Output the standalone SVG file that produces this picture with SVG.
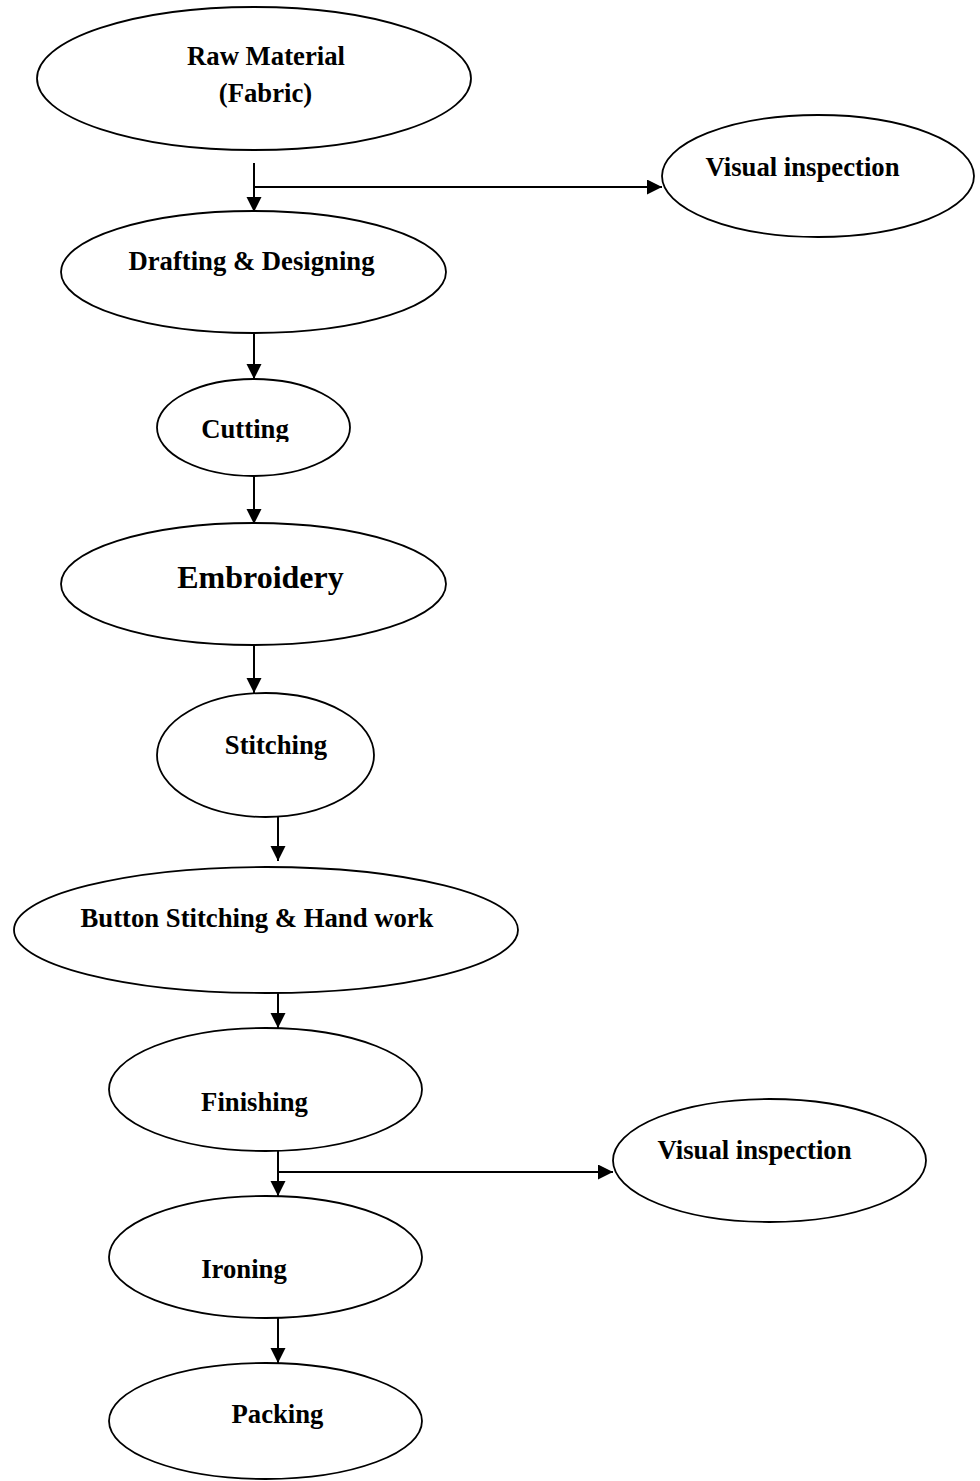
<svg xmlns="http://www.w3.org/2000/svg" width="980" height="1481" viewBox="0 0 980 1481">
<style>
  .node ellipse { fill: #ffffff; stroke: #000000; stroke-width: 1.8; }
  .node text { font-family: "Liberation Serif", "Times New Roman", serif; font-weight: bold; font-size: 26.7px; fill: #000000; text-anchor: middle; }
  .node text.big { font-size: 32px; }
  .conn line { stroke: #000000; stroke-width: 2; fill: none; }
  .conn line.arrow { marker-end: url(#arrowhead); }
</style>
<defs>
  <marker id="arrowhead" markerUnits="userSpaceOnUse" markerWidth="16" markerHeight="16" refX="15" refY="7.5" orient="auto">
    <path d="M0,0 L15,7.5 L0,15 Z" fill="#000000"/>
  </marker>
  <clipPath id="cutClip">
    <rect x="150" y="380" width="210" height="62"/>
  </clipPath>
</defs>
<rect x="0" y="0" width="980" height="1481" fill="#ffffff"/>

<g id="connectors" class="conn">
  <line class="arrow" x1="254" y1="163" x2="254" y2="212"/>
  <line class="arrow" x1="254" y1="187" x2="662" y2="187"/>
  <line class="arrow" x1="254" y1="333" x2="254" y2="379"/>
  <line class="arrow" x1="254" y1="476" x2="254" y2="524"/>
  <line class="arrow" x1="254" y1="643" x2="254" y2="693"/>
  <line class="arrow" x1="278" y1="810" x2="278" y2="861"/>
  <line class="arrow" x1="278" y1="990" x2="278" y2="1028"/>
  <line class="arrow" x1="278" y1="1148" x2="278" y2="1196"/>
  <line class="arrow" x1="278" y1="1172" x2="613" y2="1172"/>
  <line class="arrow" x1="278" y1="1313" x2="278" y2="1363"/>
</g>

<g id="node-raw-material" class="node">
  <ellipse cx="254" cy="78.5" rx="217" ry="71.5"/>
  <text x="266" y="65">Raw Material</text>
  <text x="265.5" y="102">(Fabric)</text>
</g>

<g id="node-visual-inspection-1" class="node">
  <ellipse cx="818" cy="176" rx="156" ry="61"/>
  <text x="802.5" y="176">Visual inspection</text>
</g>

<g id="node-drafting" class="node">
  <ellipse cx="253.5" cy="272" rx="192.5" ry="61"/>
  <text x="251.5" y="270">Drafting &amp; Designing</text>
</g>

<g id="node-cutting" class="node">
  <ellipse cx="253.5" cy="427.5" rx="96.5" ry="48.5"/>
  <text x="245" y="438" clip-path="url(#cutClip)">Cutting</text>
</g>

<g id="node-embroidery" class="node">
  <ellipse cx="253.5" cy="584" rx="192.5" ry="61"/>
  <text class="big" x="260.5" y="588">Embroidery</text>
</g>

<g id="node-stitching" class="node">
  <ellipse cx="265.5" cy="755" rx="108.5" ry="62"/>
  <text x="276" y="754">Stitching</text>
</g>

<g id="node-button-stitching" class="node">
  <ellipse cx="266" cy="930" rx="252" ry="63"/>
  <text x="257" y="927">Button Stitching &amp; Hand work</text>
</g>

<g id="node-finishing" class="node">
  <ellipse cx="265.5" cy="1089.5" rx="156.5" ry="61.5"/>
  <text x="254.5" y="1111">Finishing</text>
</g>

<g id="node-visual-inspection-2" class="node">
  <ellipse cx="769.5" cy="1160.5" rx="156.5" ry="61.5"/>
  <text x="754.5" y="1159">Visual inspection</text>
</g>

<g id="node-ironing" class="node">
  <ellipse cx="265.5" cy="1257" rx="156.5" ry="61"/>
  <text x="244" y="1278">Ironing</text>
</g>

<g id="node-packing" class="node">
  <ellipse cx="265.5" cy="1421" rx="156.5" ry="58"/>
  <text x="277.5" y="1423">Packing</text>
</g>
</svg>
